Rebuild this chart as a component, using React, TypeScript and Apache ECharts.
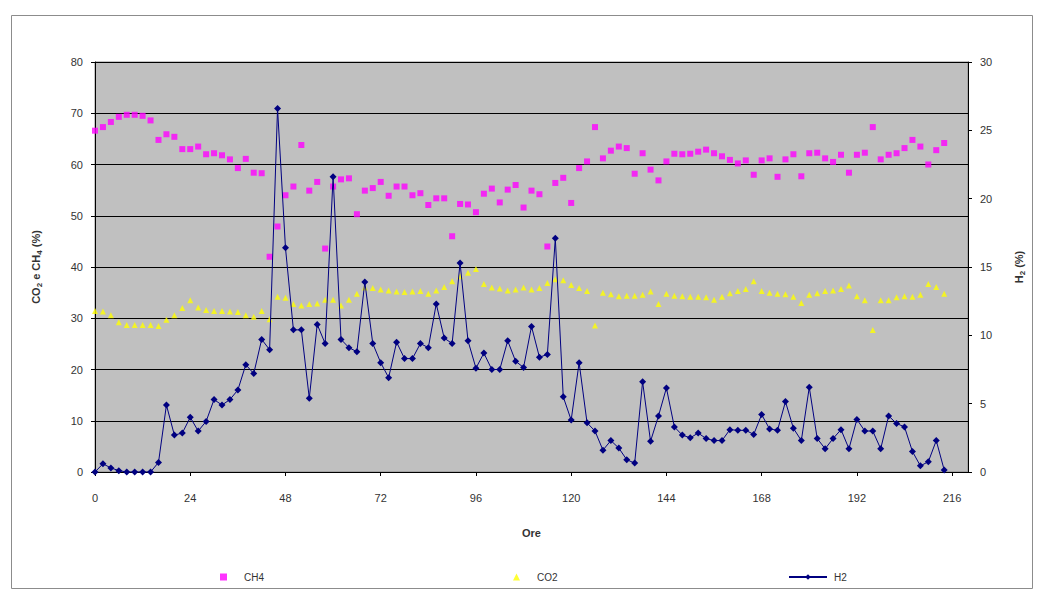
import React, { useEffect, useRef } from "react";
import * as echarts from "echarts";

// Sampling times (hours)
const hours = [
  0, 2, 4, 6, 8, 10, 12, 14, 16, 18, 20, 22, 24, 26, 28, 30, 32, 34, 36, 38,
  40, 42, 44, 46, 48, 50, 52, 54, 56, 58, 60, 62, 64, 66, 68, 70, 72, 74, 76, 78,
  80, 82, 84, 86, 88, 90, 92, 94, 96, 98, 100, 102, 104, 106, 108, 110, 112, 114, 116, 118,
  120, 122, 124, 126, 128, 130, 132, 134, 136, 138, 140, 142, 144, 146, 148, 150, 152, 154, 156, 158,
  160, 162, 164, 166, 168, 170, 172, 174, 176, 178, 180, 182, 184, 186, 188, 190, 192, 194, 196, 198,
  200, 202, 204, 206, 208, 210, 212, 214,
];

// Methane content (%), left axis
const ch4 = [
  66.6, 67.3, 68.3, 69.3, 69.7, 69.7, 69.5, 68.6, 64.8, 65.9,
  65.4, 63.0, 63.0, 63.5, 62.0, 62.2, 61.8, 61.0, 59.3, 61.1,
  58.4, 58.3, 42.0, 47.9, 54.0, 55.7, 63.8, 54.9, 56.6, 43.6,
  55.7, 57.1, 57.3, 50.3, 54.9, 55.4, 56.6, 53.9, 55.7, 55.7,
  54.0, 54.4, 52.1, 53.4, 53.4, 46.0, 52.3, 52.2, 50.7, 54.3,
  55.3, 52.6, 55.1, 56.0, 51.6, 54.9, 54.2, 44.0, 56.4, 57.4,
  52.5, 59.3, 60.6, 67.3, 61.2, 62.7, 63.5, 63.2, 58.2, 62.2,
  59.0, 56.9, 60.6, 62.1, 62.0, 62.1, 62.5, 62.9, 62.2, 61.6,
  60.9, 60.2, 60.8, 58.0, 60.8, 61.2, 57.6, 61.0, 62.0, 57.7,
  62.2, 62.3, 61.2, 60.5, 61.9, 58.4, 61.9, 62.3, 67.3, 61.0,
  61.9, 62.2, 63.2, 64.8, 63.5, 60.0, 62.8, 64.2,
];

// Carbon dioxide content (%), left axis
const co2 = [
  31.4, 31.3, 30.6, 29.2, 28.7, 28.7, 28.7, 28.7, 28.5, 29.7,
  30.6, 32.0, 33.5, 32.1, 31.6, 31.4, 31.4, 31.3, 31.2, 30.6,
  30.3, 31.4, 29.8, 34.2, 34.0, 32.8, 32.5, 32.8, 32.9, 33.6,
  33.6, 32.5, 33.6, 34.8, 36.0, 35.9, 35.6, 35.4, 35.2, 35.1,
  35.2, 35.3, 34.8, 35.4, 36.1, 37.2, 38.2, 38.9, 39.6, 36.7,
  36.0, 35.8, 35.4, 35.6, 36.0, 35.6, 35.9, 36.9, 37.6, 37.4,
  36.5, 35.9, 35.3, 28.6, 35.0, 34.7, 34.3, 34.4, 34.4, 34.6,
  35.2, 32.8, 34.8, 34.4, 34.3, 34.2, 34.2, 34.1, 33.6, 34.2,
  34.9, 35.3, 35.7, 37.2, 35.3, 35.0, 34.8, 34.7, 34.2, 33.0,
  34.6, 34.9, 35.3, 35.4, 35.7, 36.4, 34.3, 33.5, 27.7, 33.5,
  33.5, 34.1, 34.3, 34.2, 34.6, 36.7, 36.1, 34.8,
];

// Hydrogen content (%), right axis
const h2 = [
  0, 0.6, 0.3, 0.1, 0, 0, 0, 0, 0.7, 4.9,
  2.7, 2.85, 4.0, 3.0, 3.7, 5.3, 4.9, 5.3, 6.0, 7.85,
  7.2, 9.7, 8.95, 26.6, 16.4, 10.4, 10.4, 5.4, 10.8, 9.4,
  21.6, 9.7, 9.1, 8.8, 13.9, 9.4, 8.0, 6.9, 9.5, 8.3,
  8.3, 9.4, 9.1, 12.3, 9.8, 9.4, 15.3, 9.6, 7.6, 8.7,
  7.5, 7.5, 9.6, 8.1, 7.65, 10.65, 8.4, 8.6, 17.1, 5.5,
  3.8, 8.0, 3.6, 3.0, 1.6, 2.3, 1.75, 0.9, 0.65, 6.6,
  2.25, 4.1, 6.15, 3.3, 2.7, 2.5, 2.85, 2.45, 2.3, 2.3,
  3.1, 3.05, 3.05, 2.75, 4.2, 3.15, 3.05, 5.15, 3.2, 2.3,
  6.2, 2.45, 1.7, 2.45, 3.1, 1.7, 3.85, 3.0, 3.0, 1.7,
  4.1, 3.55, 3.3, 1.5, 0.45, 0.75, 2.3, 0.15,
];

const FONT = "'Liberation Sans', Arial, sans-serif";
const TEXT = "#333";

const subRich = {
  m: { fontSize: 11, fontWeight: "bold", color: TEXT, fontFamily: FONT, lineHeight: 14 },
  s: { fontSize: 8, fontWeight: "bold", color: TEXT, fontFamily: FONT, lineHeight: 14, verticalAlign: "bottom", padding: [5, 0, 0, 0] },
};

export default function App() {
  const ref = useRef<HTMLDivElement>(null);

  useEffect(() => {
    document.body.style.margin = "0";
    const chart = echarts.init(ref.current!, null, { renderer: "svg" });
    const pairs = (ys: number[]) => hours.map((h, i) => [h, ys[i]]);

    chart.setOption({
      animation: false,
      backgroundColor: "#ffffff",
      textStyle: { fontFamily: FONT },
      graphic: [
        {
          type: "rect",
          silent: true,
          z: -10,
          shape: { x: 11.5, y: 15.5, width: 1021, height: 573 },
          style: { fill: "none", stroke: "#8c8c8c", lineWidth: 1 },
        },
      ],
      grid: {
        left: 95,
        right: 71,
        top: 62,
        bottom: 120,
        show: true,
        backgroundColor: "#c0c0c0",
        borderColor: "#8a8a8a",
        borderWidth: 1,
      },
      legend: [
        {
          data: ["CH4"],
          left: 215,
          top: 567,
          itemWidth: 7,
          itemHeight: 7,
          textStyle: { fontSize: 10, color: TEXT, padding: [0, 0, 0, 12] },
        },
        {
          data: ["CO2"],
          left: 508,
          top: 567,
          itemWidth: 7,
          itemHeight: 7,
          textStyle: { fontSize: 10, color: TEXT, padding: [0, 0, 0, 12] },
        },
        {
          data: ["H2"],
          left: 783,
          top: 567,
          itemWidth: 38,
          itemHeight: 7,
          textStyle: { fontSize: 10, color: TEXT, padding: [0, 0, 0, 2] },
        },
      ],
      xAxis: {
        type: "value",
        min: 0,
        max: 220,
        interval: 24,
        name: "Ore",
        nameLocation: "middle",
        nameGap: 55,
        nameTextStyle: { fontSize: 11, fontWeight: "bold", color: TEXT },
        axisLine: { show: true, onZero: false, lineStyle: { color: "#000", width: 1 } },
        axisTick: { show: true, length: 4, lineStyle: { color: "#000" } },
        axisLabel: { fontSize: 11, color: TEXT, margin: 20, showMaxLabel: false },
        splitLine: { show: false },
      },
      yAxis: [
        {
          type: "value",
          position: "left",
          min: 0,
          max: 80,
          interval: 10,
          name: "{m|CO}{s|2}{m| e CH}{s|4}{m| (%)}",
          nameLocation: "middle",
          nameGap: 52,
          nameRotate: 90,
          nameTextStyle: { rich: subRich },
          axisLine: { show: true, lineStyle: { color: "#000", width: 1 } },
          axisTick: { show: true, length: 4, lineStyle: { color: "#000" } },
          axisLabel: { fontSize: 11, color: TEXT, margin: 12 },
          splitLine: { show: true, lineStyle: { color: "#000", width: 1 } },
        },
        {
          type: "value",
          position: "right",
          min: 0,
          max: 30,
          interval: 5,
          name: "{m|H}{s|2}{m| (%)}",
          nameLocation: "middle",
          nameGap: 44,
          nameRotate: 90,
          nameTextStyle: { rich: subRich },
          axisLine: { show: true, lineStyle: { color: "#000", width: 1 } },
          axisTick: { show: true, length: 4, lineStyle: { color: "#000" } },
          axisLabel: { fontSize: 11, color: TEXT, margin: 12 },
          splitLine: { show: false },
        },
      ],
      series: [
        {
          name: "CH4",
          type: "scatter",
          data: pairs(ch4),
          symbol: "rect",
          symbolSize: 6,
          itemStyle: { color: "#ff00ff" },
        },
        {
          name: "CO2",
          type: "scatter",
          data: pairs(co2),
          symbol: "triangle",
          symbolSize: 6,
          itemStyle: { color: "#ffff00" },
        },
        {
          name: "H2",
          type: "line",
          yAxisIndex: 1,
          data: pairs(h2),
          symbol: "diamond",
          symbolSize: 7,
          showSymbol: true,
          lineStyle: { color: "#000080", width: 1 },
          itemStyle: { color: "#000080" },
        },
      ],
    });

    return () => chart.dispose();
  }, []);

  return <div ref={ref} style={{ width: 1039, height: 592 }} />;
}
